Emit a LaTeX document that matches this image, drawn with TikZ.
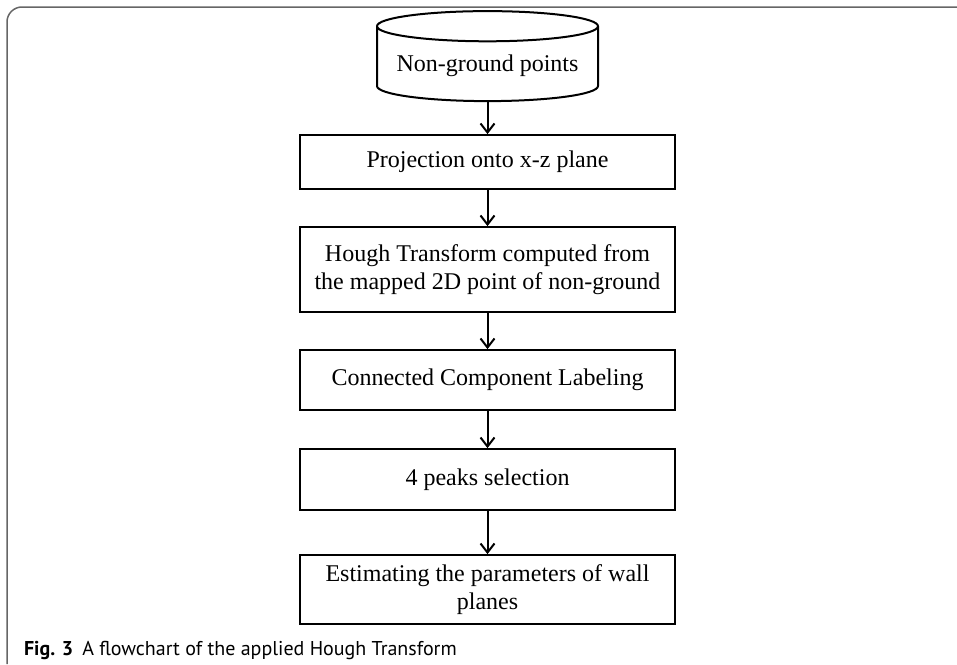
\documentclass[tikz,border=0pt]{standalone}
\usepackage{fontspec}
\setmainfont{Liberation Serif}
\newfontfamily\capfont{PT Sans}
\usetikzlibrary{positioning,shapes.geometric,arrows.meta}

\begin{document}
\begin{tikzpicture}[->,>={Straight Barb[length=9pt,width=14pt]},line width=2pt,
      x=1pt,y=-1pt,
      step node/.style={rectangle,draw,minimum width=375pt,align=center,
        font=\fontsize{24}{28}\selectfont},
      data node/.style={cylinder,draw,shape border rotate=90,aspect=0.16,
        minimum width=221pt,minimum height=90pt,font=\fontsize{24}{28}\selectfont}]

      \useasboundingbox (0,0) rectangle (957,664);
      \draw[-,black!60,line width=1.5pt,rounded corners=15pt] (957,7) -- (7,7) -- (7,664);

      \node[data node] (src) at (487.5,66) {Non-ground points};
      \node[step node, minimum height=54pt] (proj) [below=32pt of src] {Projection onto x-z plane};
      \node[step node, minimum height=85pt] (hough) [below=36pt of proj] {Hough Transform computed from\\the mapped 2D point of non-ground};
      \node[step node, minimum height=60pt] (ccl) [below=36pt of hough] {Connected Component Labeling};
      \node[step node, minimum height=61pt] (peaks) [below=37pt of ccl] {4 peaks selection};
      \node[step node, minimum height=69pt] (wall) [below=43pt of peaks] {Estimating the parameters of wall\\planes};

      \path (src) edge (proj)
            (proj) edge (hough)
            (hough) edge (ccl)
            (ccl) edge (peaks)
            (peaks) edge (wall);

      \node[anchor=base west,inner sep=0pt,font=\capfont\fontsize{20}{24}\selectfont] (cap) at (23,655)
        {\textbf{Fig. 3}\hspace{0.45em}A flowchart of the applied Hough Transform};
    \end{tikzpicture}
\end{document}
